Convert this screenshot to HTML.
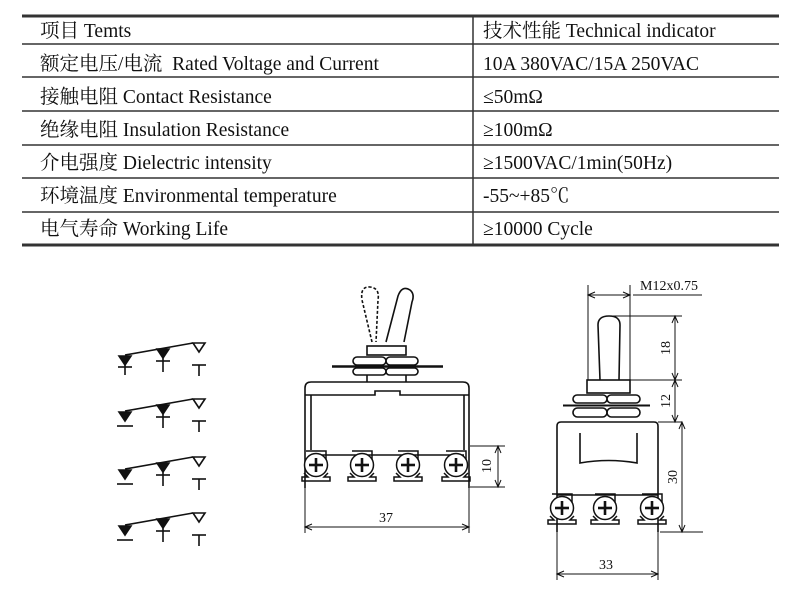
<!DOCTYPE html>
<html><head><meta charset="utf-8"><style>
body{margin:0;background:#fff;width:790px;height:614px;overflow:hidden}
svg{display:block}
.t{font-family:"Liberation Serif","Noto Serif CJK SC","Noto Sans CJK SC",serif;font-size:19.5px;fill:#111}
.d{font-family:"Liberation Serif",serif;font-size:14px;fill:#111}
</style></head><body>
<svg width="790" height="614" viewBox="0 0 790 614" xmlns="http://www.w3.org/2000/svg">
<g stroke="#333" fill="none">
<line x1="22" y1="16" x2="779" y2="16" stroke-width="3"/>
<line x1="22" y1="44" x2="779" y2="44" stroke-width="1.5"/>
<line x1="22" y1="77" x2="779" y2="77" stroke-width="1.5"/>
<line x1="22" y1="111" x2="779" y2="111" stroke-width="1.5"/>
<line x1="22" y1="145" x2="779" y2="145" stroke-width="1.5"/>
<line x1="22" y1="178" x2="779" y2="178" stroke-width="1.5"/>
<line x1="22" y1="212" x2="779" y2="212" stroke-width="1.5"/>
<line x1="22" y1="245" x2="779" y2="245" stroke-width="3"/>
<line x1="473" y1="16" x2="473" y2="245" stroke-width="1.5"/>
</g>
<g class="t">
<text x="40" y="37">项目 Temts</text>
<text x="483" y="37">技术性能 Technical indicator</text>
<text x="40" y="70">额定电压/电流 &#160;Rated Voltage and Current</text>
<text x="483" y="70">10A 380VAC/15A 250VAC</text>
<text x="40" y="103">接触电阻 Contact Resistance</text>
<text x="483" y="103">≤50mΩ</text>
<text x="40" y="136">绝缘电阻 Insulation Resistance</text>
<text x="483" y="136">≥100mΩ</text>
<text x="40" y="169">介电强度 Dielectric intensity</text>
<text x="483" y="169">≥1500VAC/1min(50Hz)</text>
<text x="40" y="202">环境温度 Environmental temperature</text>
<text x="483" y="202">-55~+85℃</text>
<text x="40" y="235">电气寿命 Working Life</text>
<text x="483" y="235">≥10000 Cycle</text>
</g>

<defs>
<g id="sym1" stroke="#111" stroke-width="1.6" fill="none">
<line x1="125" y1="355" x2="193" y2="343"/>
<polygon points="119,356 131,356 125,365" fill="#111"/>
<polygon points="157,349 169,349 163,358" fill="#111"/>
<polygon points="193,343 205,343 199,352"/>
<line x1="118" y1="367" x2="132" y2="367"/><line x1="125" y1="365" x2="125" y2="375"/>
<line x1="156" y1="361" x2="170" y2="361"/><line x1="163" y1="358" x2="163" y2="372"/>
<line x1="192" y1="365" x2="206" y2="365"/><line x1="199" y1="365" x2="199" y2="376"/>
</g>
<g id="sym2" stroke="#111" stroke-width="1.6" fill="none">
<line x1="125" y1="355" x2="193" y2="343"/>
<polygon points="119,356 131,356 125,365" fill="#111"/>
<polygon points="157,349 169,349 163,358" fill="#111"/>
<polygon points="193,343 205,343 199,352"/>
<line x1="117" y1="370" x2="133" y2="370"/>
<line x1="156" y1="361" x2="170" y2="361"/><line x1="163" y1="358" x2="163" y2="372"/>
<line x1="192" y1="365" x2="206" y2="365"/><line x1="199" y1="365" x2="199" y2="376"/>
</g>
<g id="screw" stroke="#111" stroke-width="1.5" fill="#fff">
<path d="M-10,-14 h20 v14 M-12,8 l4,4 h-6 v4 h28 v-4 h-6 l4,-4" fill="none"/>
<circle r="11.5"/>
<line x1="-7" y1="0" x2="7" y2="0" stroke-width="2.6"/><line x1="0" y1="-7" x2="0" y2="7" stroke-width="2.6"/>
</g>
</defs>
<use href="#sym1"/>
<use href="#sym2" y="56"/>
<use href="#sym2" y="114"/>
<use href="#sym2" y="170"/>

<g stroke="#111" stroke-width="1.6" fill="none">
<path d="M372,342 L362,300 Q360,286 370,287 Q380,288 378,300 L376,342" stroke-dasharray="3,2"/>
<path d="M386,342 L398,296 Q402,285 410,290 Q415,294 412,302 L404,342"/>
<rect x="367" y="346" width="39" height="9"/>
<rect x="353" y="357" width="33" height="8" rx="4"/><rect x="386" y="357" width="32" height="8" rx="4"/>
<line x1="332" y1="366.5" x2="443" y2="366.5" stroke-width="2.5"/>
<rect x="353" y="368" width="33" height="7" rx="3.5"/><rect x="386" y="368" width="32" height="7" rx="3.5"/>
<line x1="367" y1="375" x2="367" y2="382"/><line x1="406" y1="375" x2="406" y2="382"/>
<path d="M305,488 V388 Q305,382 311,382 H463 Q469,382 469,388 V488"/>
<path d="M305,395 H375 V391 H400 V395 H469"/>
<line x1="311" y1="395" x2="311" y2="450"/><line x1="464" y1="395" x2="464" y2="450"/>
<line x1="311" y1="455" x2="464" y2="455"/>
<line x1="470" y1="446" x2="505" y2="446" stroke-width="1"/>
<line x1="470" y1="487" x2="505" y2="487" stroke-width="1"/>
<line x1="498" y1="446" x2="498" y2="487" stroke-width="1"/>
<path d="M495,453 L498,446 L501,453 M495,480 L498,487 L501,480" stroke-width="1"/>
<line x1="305" y1="488" x2="305" y2="533" stroke-width="1"/>
<line x1="469" y1="488" x2="469" y2="533" stroke-width="1"/>
<line x1="305" y1="527" x2="469" y2="527" stroke-width="1"/>
<path d="M312,524 L305,527 L312,530 M462,524 L469,527 L462,530" stroke-width="1"/>
</g>
<use href="#screw" x="316" y="465"/>
<use href="#screw" x="362" y="465"/>
<use href="#screw" x="408" y="465"/>
<use href="#screw" x="456" y="465"/>
<text class="d" x="379" y="522">37</text>
<text class="d" transform="translate(491,466) rotate(-90)" text-anchor="middle">10</text>

<g stroke="#111" stroke-width="1.6" fill="none">
<line x1="633" y1="295" x2="702" y2="295" stroke-width="1"/>
<line x1="588" y1="295" x2="630" y2="295" stroke-width="1"/>
<path d="M595,292 L588,295 L595,298 M623,292 L630,295 L623,298" stroke-width="1"/>
<line x1="588" y1="285" x2="588" y2="380" stroke-width="1"/>
<line x1="630" y1="285" x2="630" y2="380" stroke-width="1"/>
<path d="M600,380 L598,325 Q598,316 609,316 Q620,316 620,325 L619,380"/>
<line x1="609" y1="316" x2="682" y2="316" stroke-width="1"/>
<line x1="630" y1="380" x2="682" y2="380" stroke-width="1"/>
<line x1="675" y1="316" x2="675" y2="422" stroke-width="1"/>
<path d="M672,323 L675,316 L678,323 M672,373 L675,380 L678,373 M672,387 L675,380 L678,387 M672,415 L675,422 L678,415" stroke-width="1"/>
<rect x="587" y="380" width="43" height="13"/>
<rect x="573" y="395" width="34" height="8" rx="4"/><rect x="607" y="395" width="33" height="8" rx="4"/>
<line x1="563" y1="405.5" x2="650" y2="405.5" stroke-width="2"/>
<rect x="573" y="408" width="34" height="9" rx="4.5"/><rect x="607" y="408" width="33" height="9" rx="4.5"/>
<path d="M557,532 V426 Q557,422 561,422 H654 Q658,422 658,426 V532"/>
<path d="M580,433 V463 Q609,458 637,463 V433"/>
<line x1="658" y1="422" x2="682" y2="422" stroke-width="1"/>
<line x1="660" y1="532" x2="703" y2="532" stroke-width="1"/>
<line x1="682" y1="422" x2="682" y2="532" stroke-width="1"/>
<path d="M679,429 L682,422 L685,429 M679,525 L682,532 L685,525" stroke-width="1"/>
<line x1="557" y1="532" x2="557" y2="580" stroke-width="1"/>
<line x1="658" y1="532" x2="658" y2="580" stroke-width="1"/>
<line x1="557" y1="574" x2="658" y2="574" stroke-width="1"/>
<path d="M564,571 L557,574 L564,577 M651,571 L658,574 L651,577" stroke-width="1"/>
<line x1="557" y1="495" x2="658" y2="495"/>
</g>
<use href="#screw" x="562" y="508"/>
<use href="#screw" x="605" y="508"/>
<use href="#screw" x="652" y="508"/>
<text class="d" x="640" y="290" font-size="11.5">M12x0.75</text>
<text class="d" transform="translate(670,348) rotate(-90)" text-anchor="middle">18</text>
<text class="d" transform="translate(670,401) rotate(-90)" text-anchor="middle">12</text>
<text class="d" transform="translate(677,477) rotate(-90)" text-anchor="middle">30</text>
<text class="d" x="599" y="569">33</text>
</svg>
</body></html>
